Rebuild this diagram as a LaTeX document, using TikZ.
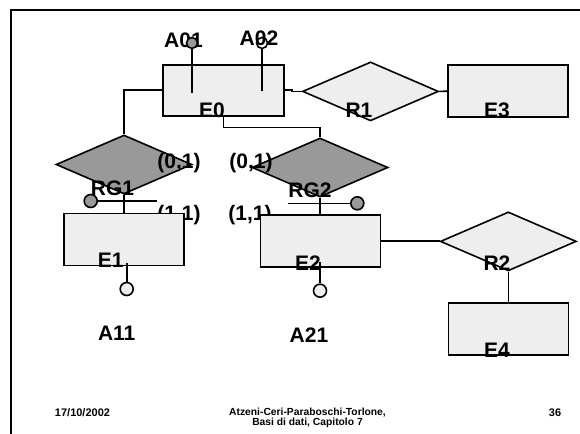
\documentclass[tikz,border=0pt]{standalone}
\usepackage{fontspec}
\setmainfont{Liberation Sans}
\usepackage{xcolor}
\usepackage{tikz}
\usetikzlibrary{shapes.geometric}
\definecolor{lightfill}{HTML}{EEEEEE}
\definecolor{darkfill}{HTML}{999999}
\tikzset{
  entity/.style={draw,fill=lightfill,line width=1.6pt,minimum width=120pt,minimum height=52pt,inner sep=0pt},
  relation/.style={diamond,draw,fill=lightfill,line width=1.6pt,minimum width=136pt,minimum height=59pt,inner sep=0pt},
  genrel/.style={relation,fill=darkfill},
  attr/.style={circle,draw,fill=lightfill,line width=1.6pt,minimum size=13pt,inner sep=0pt},
  idattr/.style={attr,fill=darkfill},
  link/.style={line width=1.6pt},
  lbl/.style={font=\bfseries\fontsize{21}{24}\selectfont,inner sep=0pt},
  foot/.style={font=\bfseries\fontsize{10.3}{10.5}\selectfont,inner sep=0pt,align=center}
}
\begin{document}
\begin{tikzpicture}[x=1pt,y=-1pt]
%\draw[help lines,step=20](0,0)grid(580,433);
\useasboundingbox (0,0) rectangle (580,433);
\draw[line width=2pt](11,440)|-(590,10);
% cardinalities of the generalisations, partly under the boxes
\node[lbl](c11a)at(179,215){(1,1)};
\node[lbl](c11b)at(250,215){(1,1)};
\node[lbl](A01)at(183.5,40){A01};
\node[lbl](A02)at(259,38){A02};
% entities and relationships
\node[entity,minimum width=121pt,minimum height=51pt](E0)at(223.5,90.3){};
\node[entity](E3)at(508,91.2){};
\node[entity](E1)at(123.7,239.5){};
\node[entity](E2)at(320.3,241.2){};
\node[entity](E4)at(508.3,329.2){};
\node[relation](R1)at(370.5,91.4){};
\node[genrel](RG1)at(124,164.5){};
\node[genrel](RG2)at(320,167.5){};
\node[relation](R2)at(508.3,241.4){};
\draw[link](E0.west)-|(RG1.north);
\draw[link](E0.south)--++(0,11)-|(RG2.north);
\draw[link](E0.east)--++(7,0)|-(R1.west);
\draw[link](R1.east)--(E3.west);
\draw[link](RG1.south)--(RG1.south|-E1.north);
\draw[link](RG2.south)--(RG2.south|-E2.north);
\draw[link](E2.east)--(E2.east-|R2.west);
\draw[link](R2.south)--(R2.south|-E4.north);
% attributes
\node[idattr,minimum size=11pt](A01c)at(192,43){};
\node[attr,fill=none,minimum size=11pt](A02c)at(262,43){};
\node[idattr](RG1c)at(90.7,201){};
\node[idattr](RG2c)at(357.3,203.3){};
\node[attr](E1c)at(126.7,289){};
\node[attr](E2c)at(320,290.7){};
\coordinate(a01)at(192,93);
\coordinate(a02)at(262,91);
\coordinate(rg1e)at(156.7,201);
\coordinate(rg2e)at(287.7,203.3);
\coordinate(e1s)at(126.7,263);
\coordinate(e2s)at(320,261.7);
\draw[link](a01)--(A01c);
\draw[link](a02)--(A02c);
\draw[link](RG1c)--(rg1e);
\draw[link](rg2e)--(RG2c);
\draw[link](e1s)--(E1c);
\draw[link](e2s)--(E2c);
% names
\node[lbl](nE0)at(212,110){E0};
\node[lbl](nR1)at(359,110.7){R1};
\node[lbl](nE3)at(497,110){E3};
\node[lbl](nRG1)at(112.5,188){RG1};
\node[lbl](nRG2)at(310,190){RG2};
\node[lbl](c01a)at(179,163){(0,1)};
\node[lbl](c01b)at(251,163){(0,1)};
\node[lbl](nE1)at(110.7,260.7){E1};
\node[lbl](nE2)at(308,262.7){E2};
\node[lbl](A11)at(116.7,333.3){A11};
\node[lbl](A21)at(309,335){A21};
\node[lbl](nR2)at(497,263){R2};
\node[lbl](nE4)at(497,350){E4};
% footer
\node[foot,font=\bfseries\fontsize{11}{10.5}\selectfont](date)at(82.5,412.5){17/10/2002};
\node[foot](book)at(307.5,418){Atzeni-Ceri-Paraboschi-Torlone,\\Basi di dati, Capitolo 7};
\node[foot,font=\bfseries\fontsize{11}{10.5}\selectfont](page)at(555,412.3){36};
\end{tikzpicture}
\end{document}
